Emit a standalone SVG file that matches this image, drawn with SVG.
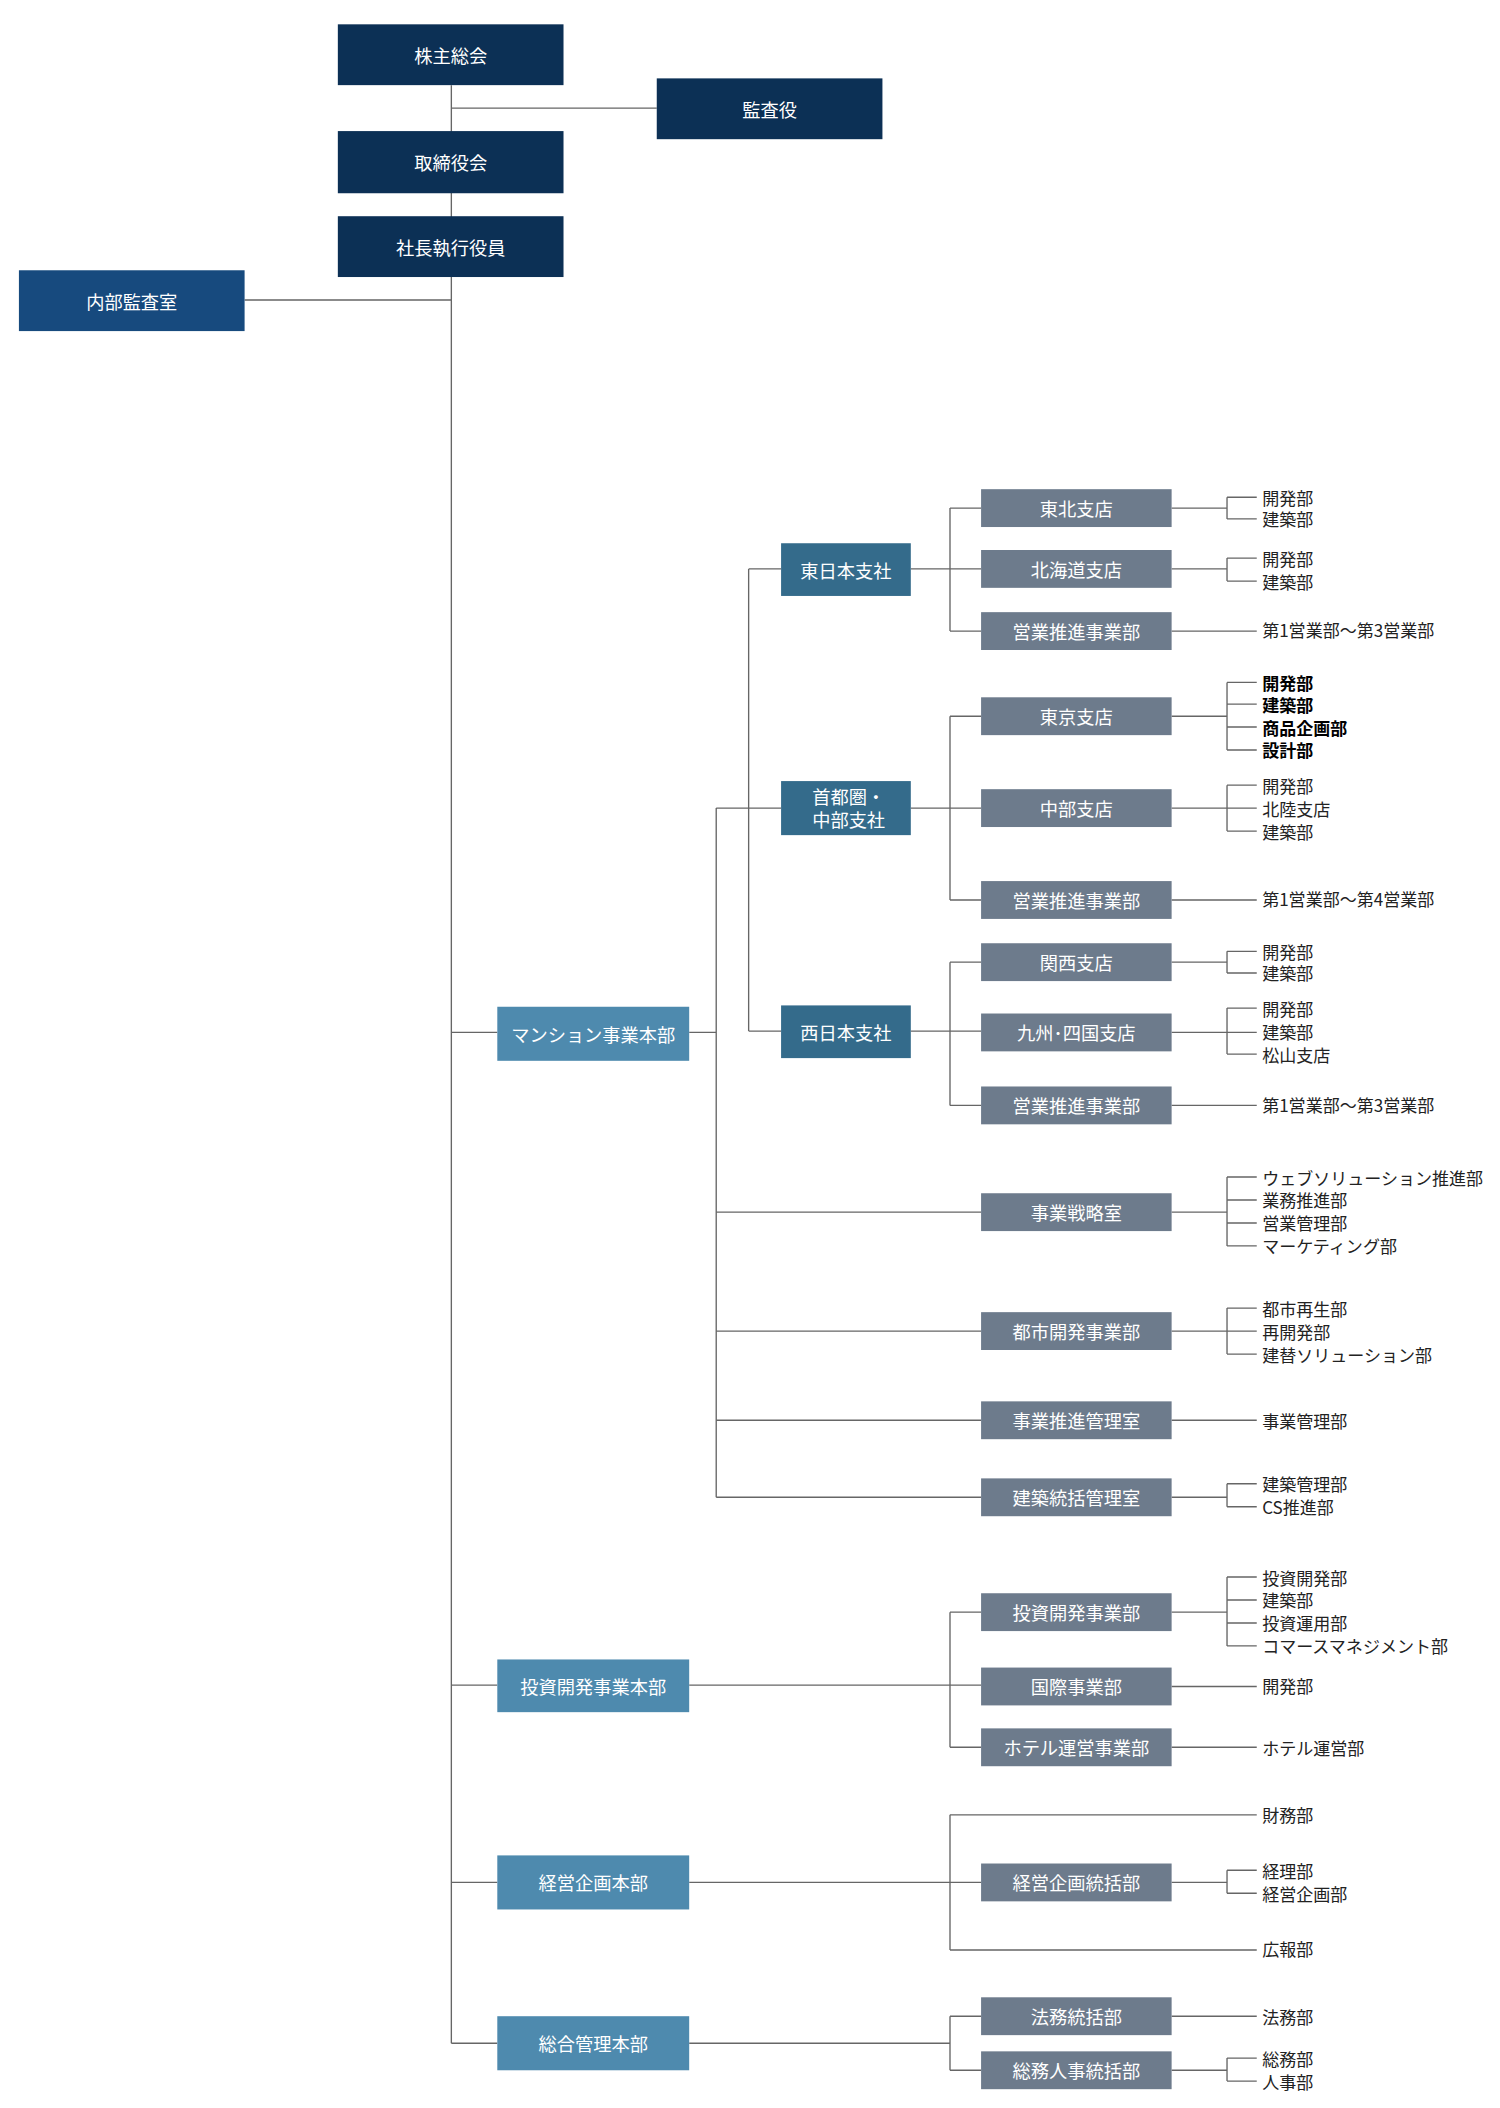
<svg xmlns="http://www.w3.org/2000/svg" width="1500" height="2108" viewBox="0 0 1500 2108">
<style>
text{font-family:"Noto Sans CJK JP","Noto Sans",sans-serif;font-size:13.5px}
.bt{fill:#fff;text-anchor:middle;dominant-baseline:central}
.lf{fill:#222;dominant-baseline:central;font-size:12.6px}
.b{font-weight:bold;fill:#000}
.ln{stroke:#666;stroke-width:1;fill:none}
.nv{fill:#0c3055}.ia{fill:#174a7e}.l1{fill:#4e8aae}.br{fill:#346b8b}.gy{fill:#6d7b8c}
</style>
<rect width="1500" height="2108" fill="#fff"/>
<g transform="scale(1.35135)">
<g id="connectors" class="ln">
<path d="M334 63V1512M334 80H486M181 222H334"/>
<path d="M334 764H368M334 1247H368M334 1393H368M334 1512H368"/>
<path d="M510 764H530M530 598V1108M530 598H578M554 421V763M554 421H578M554 763H578"/>
<path d="M530 897H726M530 985H726M530 1051H726M530 1108H726"/>
<path d="M674 421H726M703 376V467M703 376H726M703 467H726"/>
<path d="M674 598H726M703 530V666M703 530H726M703 666H726"/>
<path d="M674 763H726M703 712V818M703 712H726M703 818H726"/>
<path d="M510 1247H726M703 1193V1293M703 1193H726M703 1293H726"/>
<path d="M510 1393H726M703 1343V1443M703 1343H930M703 1443H930"/>
<path d="M510 1512H703M703 1492V1532M703 1492H726M703 1532H726"/>
<path d="M867 376H908M908 368V384M908 368H930M908 384H930"/>
<path d="M867 421H908M908 413V430M908 413H930M908 430H930"/>
<path d="M867 467H930M867 666H930M867 818H930M867 1051H930M867 1248H930M867 1293H930M867 1492H930"/>
<path d="M867 530H908M908 505V555M908 505H930M908 521H930M908 538H930M908 555H930"/>
<path d="M867 598H930M908 581V615M908 581H930M908 615H930"/>
<path d="M867 712H908M908 704V720M908 704H930M908 720H930"/>
<path d="M867 764H930M908 746V780M908 746H930M908 780H930"/>
<path d="M867 897H908M908 871V922M908 871H930M908 888H930M908 905H930M908 922H930"/>
<path d="M867 985H930M908 968V1002M908 968H930M908 1002H930"/>
<path d="M867 1108H908M908 1098V1115M908 1098H930M908 1115H930"/>
<path d="M867 1193H908M908 1167V1218M908 1167H930M908 1184H930M908 1201H930M908 1218H930"/>
<path d="M867 1393H908M908 1384V1401M908 1384H930M908 1401H930"/>
<path d="M867 1532H908M908 1523V1540M908 1523H930M908 1540H930"/>
</g>
<g id="n1"><rect class="nv" x="250" y="18" width="167" height="45"/><text class="bt" x="333.5" y="40.5">株主総会</text></g>
<g id="n2"><rect class="nv" x="486" y="58" width="167" height="45"/><text class="bt" x="569.5" y="80.5">監査役</text></g>
<g id="n3"><rect class="nv" x="250" y="97" width="167" height="46"/><text class="bt" x="333.5" y="120">取締役会</text></g>
<g id="n4"><rect class="nv" x="250" y="160" width="167" height="45"/><text class="bt" x="333.5" y="182.5">社長執行役員</text></g>
<g id="n5"><rect class="ia" x="14" y="200" width="167" height="45"/><text class="bt" x="97.5" y="222.5">内部監査室</text></g>
<g id="h1"><rect class="l1" x="368" y="745" width="142" height="40"/><text class="bt" x="439" y="765">マンション事業本部</text></g>
<g id="h2"><rect class="l1" x="368" y="1228" width="142" height="39"/><text class="bt" x="439" y="1247.5">投資開発事業本部</text></g>
<g id="h3"><rect class="l1" x="368" y="1373" width="142" height="40"/><text class="bt" x="439" y="1393">経営企画本部</text></g>
<g id="h4"><rect class="l1" x="368" y="1492" width="142" height="40"/><text class="bt" x="439" y="1512">総合管理本部</text></g>
<g id="s1"><rect class="br" x="578" y="402" width="96" height="39"/><text class="bt" x="626" y="421.5">東日本支社</text></g>
<g id="s2"><rect class="br" x="578" y="578" width="96" height="40"/><text class="bt" x="628" y="589">首都圏・</text><text class="bt" x="628" y="606">中部支社</text></g>
<g id="s3"><rect class="br" x="578" y="744" width="96" height="39"/><text class="bt" x="626" y="763.5">西日本支社</text></g>
<g id="g1"><rect class="gy" x="726" y="362" width="141" height="28"/><text class="bt" x="796.5" y="376">東北支店</text></g>
<g id="g2"><rect class="gy" x="726" y="407" width="141" height="28"/><text class="bt" x="796.5" y="421">北海道支店</text></g>
<g id="g3"><rect class="gy" x="726" y="453" width="141" height="28"/><text class="bt" x="796.5" y="467">営業推進事業部</text></g>
<g id="g4"><rect class="gy" x="726" y="516" width="141" height="28"/><text class="bt" x="796.5" y="530">東京支店</text></g>
<g id="g5"><rect class="gy" x="726" y="584" width="141" height="28"/><text class="bt" x="796.5" y="598">中部支店</text></g>
<g id="g6"><rect class="gy" x="726" y="652" width="141" height="28"/><text class="bt" x="796.5" y="666">営業推進事業部</text></g>
<g id="g7"><rect class="gy" x="726" y="698" width="141" height="28"/><text class="bt" x="796.5" y="712">関西支店</text></g>
<g id="g8"><rect class="gy" x="726" y="750" width="141" height="28"/><text class="bt" x="796.5" y="764">九州･四国支店</text></g>
<g id="g9"><rect class="gy" x="726" y="804" width="141" height="28"/><text class="bt" x="796.5" y="818">営業推進事業部</text></g>
<g id="g10"><rect class="gy" x="726" y="883" width="141" height="28"/><text class="bt" x="796.5" y="897">事業戦略室</text></g>
<g id="g11"><rect class="gy" x="726" y="971" width="141" height="28"/><text class="bt" x="796.5" y="985">都市開発事業部</text></g>
<g id="g12"><rect class="gy" x="726" y="1037" width="141" height="28"/><text class="bt" x="796.5" y="1051">事業推進管理室</text></g>
<g id="g13"><rect class="gy" x="726" y="1094" width="141" height="28"/><text class="bt" x="796.5" y="1108">建築統括管理室</text></g>
<g id="g14"><rect class="gy" x="726" y="1179" width="141" height="28"/><text class="bt" x="796.5" y="1193">投資開発事業部</text></g>
<g id="g15"><rect class="gy" x="726" y="1234" width="141" height="28"/><text class="bt" x="796.5" y="1248">国際事業部</text></g>
<g id="g16"><rect class="gy" x="726" y="1279" width="141" height="28"/><text class="bt" x="796.5" y="1293">ホテル運営事業部</text></g>
<g id="g17"><rect class="gy" x="726" y="1379" width="141" height="28"/><text class="bt" x="796.5" y="1393">経営企画統括部</text></g>
<g id="g18"><rect class="gy" x="726" y="1478" width="141" height="28"/><text class="bt" x="796.5" y="1492">法務統括部</text></g>
<g id="g19"><rect class="gy" x="726" y="1518" width="141" height="28"/><text class="bt" x="796.5" y="1532">総務人事統括部</text></g>
<g id="leaves">
<text class="lf" x="934" y="368">開発部</text><text class="lf" x="934" y="384">建築部</text>
<text class="lf" x="934" y="413">開発部</text><text class="lf" x="934" y="430">建築部</text>
<text class="lf" x="934" y="466">第1営業部～第3営業部</text>
<text class="lf b" x="934" y="505">開発部</text><text class="lf b" x="934" y="521">建築部</text><text class="lf b" x="934" y="538">商品企画部</text><text class="lf b" x="934" y="555">設計部</text>
<text class="lf" x="934" y="581">開発部</text><text class="lf" x="934" y="598">北陸支店</text><text class="lf" x="934" y="615">建築部</text>
<text class="lf" x="934" y="665">第1営業部～第4営業部</text>
<text class="lf" x="934" y="704">開発部</text><text class="lf" x="934" y="720">建築部</text>
<text class="lf" x="934" y="746">開発部</text><text class="lf" x="934" y="763">建築部</text><text class="lf" x="934" y="780">松山支店</text>
<text class="lf" x="934" y="817">第1営業部～第3営業部</text>
<text class="lf" x="934" y="871">ウェブソリューション推進部</text><text class="lf" x="934" y="888">業務推進部</text><text class="lf" x="934" y="905">営業管理部</text><text class="lf" x="934" y="922">マーケティング部</text>
<text class="lf" x="934" y="968">都市再生部</text><text class="lf" x="934" y="985">再開発部</text><text class="lf" x="934" y="1002">建替ソリューション部</text>
<text class="lf" x="934" y="1051">事業管理部</text>
<text class="lf" x="934" y="1098">建築管理部</text><text class="lf" x="934" y="1115">CS推進部</text>
<text class="lf" x="934" y="1167">投資開発部</text><text class="lf" x="934" y="1184">建築部</text><text class="lf" x="934" y="1201">投資運用部</text><text class="lf" x="934" y="1218">コマースマネジメント部</text>
<text class="lf" x="934" y="1247">開発部</text>
<text class="lf" x="934" y="1293">ホテル運営部</text>
<text class="lf" x="934" y="1343">財務部</text>
<text class="lf" x="934" y="1384">経理部</text><text class="lf" x="934" y="1401">経営企画部</text>
<text class="lf" x="934" y="1442">広報部</text>
<text class="lf" x="934" y="1492">法務部</text>
<text class="lf" x="934" y="1523">総務部</text><text class="lf" x="934" y="1540">人事部</text>
</g>
</g>
</svg>
